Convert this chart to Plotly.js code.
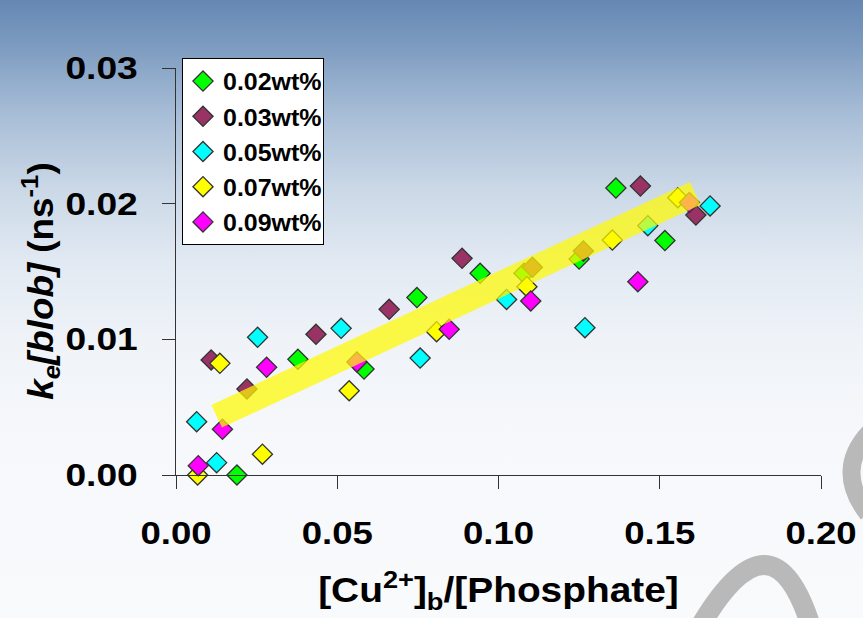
<!DOCTYPE html>
<html>
<head>
<meta charset="utf-8">
<script src="https://cdn.plot.ly/plotly-3.0.1.min.js"></script>
<style>
  html, body { margin: 0; padding: 0; }
  #chart {
    width: 863px; height: 618px;
    background: linear-gradient(to bottom, #6587b2 0%, #7f9dc1 8%, #a6bcd6 18%, #c9d7e6 30%, #e1e9f2 42%, #eff3f8 55%, #f6f8fb 70%, #f9fafc 100%);
  }
</style>
</head>
<body>
<div id="chart"></div>
<script>
// Series names
const seriesNames = ["0.02wt%", "0.03wt%", "0.05wt%", "0.07wt%", "0.09wt%"];
const seriesColors = ["#00ff00", "#993366", "#00ffff", "#ffff00", "#ff00ff"];

// [Cu2+]b/[Phosphate] values and ke[blob] values (ns^-1)
const x002 = [0.0189, 0.0378, 0.0583, 0.0747, 0.0943, 0.1079, 0.1250, 0.1364, 0.1516];
const y002 = [0.0000, 0.00853, 0.00781, 0.01308, 0.01487, 0.01487, 0.01592, 0.02115, 0.01728];

const x003 = [0.0109, 0.0220, 0.0434, 0.0661, 0.0887, 0.1105, 0.1263, 0.1440, 0.1612];
const y003 = [0.00848, 0.00634, 0.01037, 0.01221, 0.01597, 0.01531, 0.01651, 0.02130, 0.01916];

const x005 = [0.0064, 0.0126, 0.0253, 0.0512, 0.0757, 0.1025, 0.1268, 0.1463, 0.1656];
const y005 = [0.00393, 0.00091, 0.01015, 0.01081, 0.00862, 0.01294, 0.01086, 0.01838, 0.01983];

const x007 = [0.0067, 0.0136, 0.0268, 0.0537, 0.0808, 0.1088, 0.1353, 0.1556];
const y007 = [0.0000, 0.00823, 0.00153, 0.00621, 0.01056, 0.01388, 0.01732, 0.02044];

const x009 = [0.0069, 0.0144, 0.0281, 0.0561, 0.0847, 0.1100, 0.1432, 0.1592];
const y009 = [0.00069, 0.00337, 0.00794, 0.00833, 0.01074, 0.01283, 0.01425, 0.02009];

// Linear fit band end points
const fitX = [0.0126, 0.1610];
const fitY = [0.00433, 0.02076];

const xTicks = [0.00, 0.05, 0.10, 0.15, 0.20];
const yTicks = [0.00, 0.01, 0.02, 0.03];

const xs = [x002, x003, x005, x007, x009];
const ys = [y002, y003, y005, y007, y009];

const FONT = "Liberation Sans, Arial, sans-serif";

const traces = seriesNames.map((name, i) => ({
  type: "scatter",
  mode: "markers",
  name: name,
  legendgroup: "g" + i,
  x: xs[i],
  y: ys[i],
  cliponaxis: false,
  marker: {
    symbol: "diamond",
    size: 15.5,
    color: seriesColors[i],
    line: { color: "#333333", width: 1.3 }
  }
}));

traces.push({
  type: "scatter",
  mode: "lines",
  x: fitX,
  y: fitY,
  showlegend: false,
  hoverinfo: "skip",
  line: { color: "rgba(255,250,0,0.72)", width: 25 }
});

// paper coordinate helpers (plot area: x 176..821, y 68..475 px)
function px(p) { return (p - 176) / 645; }
function py(p) { return (475 - p) / 407; }

const layout = {
  width: 863,
  height: 618,
  margin: { l: 176, r: 42, t: 68, b: 143 },
  paper_bgcolor: "rgba(0,0,0,0)",
  plot_bgcolor: "rgba(0,0,0,0)",
  font: { family: FONT, color: "#000000" },
  showlegend: true,
  legend: {
    x: px(182), y: py(58), xanchor: "left", yanchor: "top",
    bgcolor: "#ffffff",
    bordercolor: "#000000",
    borderwidth: 1,
    font: { family: FONT, size: 24, weight: 700, color: "#000000" },
    traceorder: "grouped",
    tracegroupgap: 1,
    itemwidth: 30
  },
  xaxis: {
    range: [0, 0.2],
    tickvals: xTicks,
    ticktext: xTicks.map(v => v.toFixed(2)),
    showgrid: false,
    zeroline: false,
    showline: true,
    linecolor: "#333333",
    linewidth: 1,
    ticks: "outside",
    ticklen: 13,
    tickcolor: "#333333",
    ticklabelstandoff: 18,
    tickfont: { family: FONT, size: 31, weight: 700, color: "#000000" },
    title: {
      text: "[Cu<sup>2+</sup>]<sub>b</sub>/[Phosphate]",
      font: { family: FONT, size: 35, weight: 700, color: "#000000" },
      standoff: 27
    }
  },
  yaxis: {
    range: [0, 0.03],
    tickvals: yTicks,
    ticktext: yTicks.map(v => v.toFixed(2)),
    showgrid: false,
    zeroline: false,
    showline: true,
    linecolor: "#333333",
    linewidth: 1,
    ticks: "outside",
    ticklen: 13,
    tickcolor: "#333333",
    ticklabelstandoff: 18,
    tickfont: { family: FONT, size: 31, weight: 700, color: "#000000" }
  },
  annotations: [{
    xref: "paper", yref: "paper",
    x: px(40), y: py(281),
    xanchor: "center", yanchor: "middle",
    textangle: -90,
    showarrow: false,
    text: "<i>k</i><sub><i>e</i></sub><i>[blob]</i> (ns<sup>-1</sup>)",
    font: { family: FONT, size: 35, weight: 700, color: "#000000" }
  }],
  shapes: [
    {
      type: "path", xref: "paper", yref: "paper", layer: "below",
      path: "M " + px(698) + "," + py(630) + " Q " + px(773) + "," + py(500) + " " + px(812) + "," + py(630),
      line: { color: "#b9b9b9", width: 20 }
    },
    {
      type: "path", xref: "paper", yref: "paper", layer: "below",
      path: "M " + px(870) + "," + py(432) + " Q " + px(834) + "," + py(470) + " " + px(868) + "," + py(514),
      line: { color: "#b9b9b9", width: 18 }
    }
  ]
};

// The reference lettering is horizontally wider than Arial; stretch glyphs along the baseline.
function stretchText(selector, factor) {
  document.querySelectorAll("#chart " + selector).forEach(t => {
    const len = t.getComputedTextLength();
    if (len > 0) {
      t.setAttribute("textLength", (len * factor).toFixed(1));
      t.setAttribute("lengthAdjust", "spacingAndGlyphs");
    }
  });
}

Plotly.newPlot("chart", traces, layout, { displayModeBar: false, staticPlot: true }).then(() => {
  stretchText(".xtick text", 1.18);
  stretchText(".ytick text", 1.2);
  stretchText(".legendtext", 1.04);
  stretchText(".g-xtitle text", 1.11);
  stretchText(".annotation-text", 1.05);
});
</script>
</body>
</html>
